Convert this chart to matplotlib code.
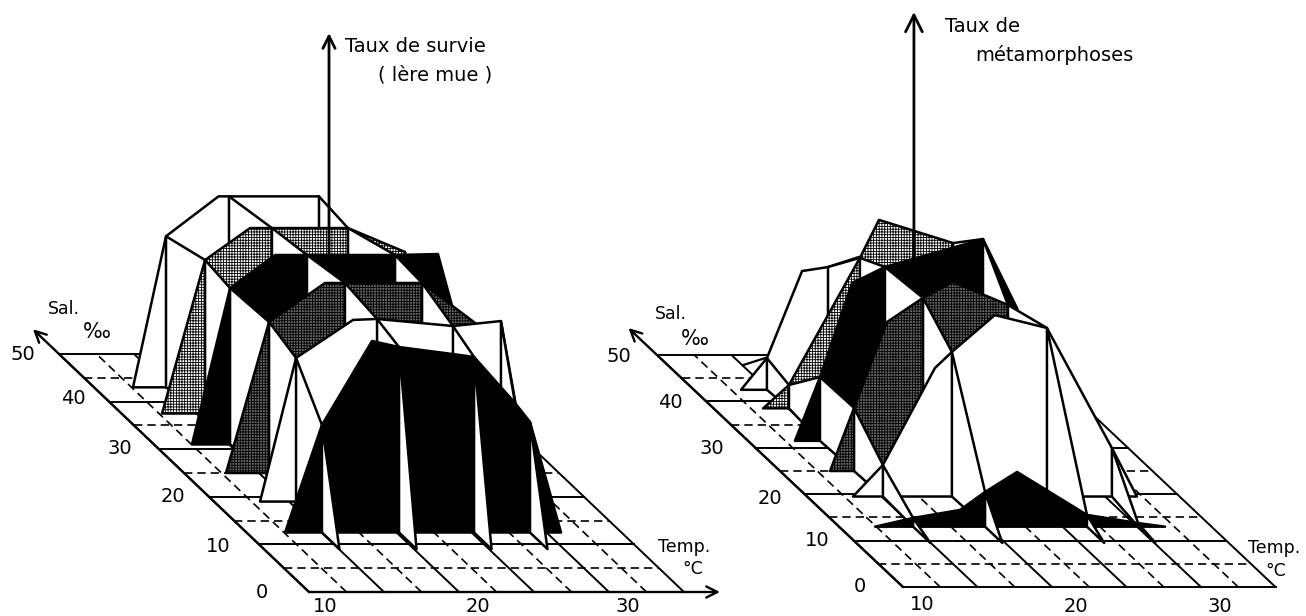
# -*- coding: utf-8 -*-
import matplotlib
matplotlib.use("Agg")
from matplotlib import pyplot as plt
from matplotlib.patches import Polygon

plt.rcParams['font.family'] = ['DejaVu Sans']

# --- Taux de survie: one profile per salinity (temperature, rate %)
surv_sal = [43, 37.5, 31, 25, 19, 12.5]
surv_sal_end = 9

surv_t1 = [12.6, 14.8, 18.3, 19.0, 25.0, 26.7]
surv_h1 = [0, 79.5, 100.5, 100.5, 100.5, 0]
surv_c1 = [1, 3, 4]

surv_t2 = [12.7, 15.57, 18.57, 20.03, 25.1, 28.9, 31.2]
surv_h2 = [0, 80.8, 97.6, 97.6, 97.6, 85, 0]
surv_c2 = [1, 3, 4]

surv_t3 = [12.53, 15.07, 18.07, 20.2, 26.07, 28.93, 32.4]
surv_h3 = [0, 82.3, 99.7, 99.7, 99.7, 100.2, 0]
surv_c3 = [1, 3, 4]

surv_t4 = [12.8, 15.67, 19.4, 20.73, 25.87, 29.4, 32.4]
surv_h4 = [0, 79.5, 100, 100, 100, 79, 0]
surv_c4 = [1, 3, 4]

surv_t5 = [13.07, 15.47, 19.27, 20.87, 25.93, 29.13, 31.27]
surv_h5 = [0, 75.6, 95.6, 96.1, 92.4, 95, 0]
surv_c5 = [1, 3, 4, 5]

surv_t6 = [12.57, 15.03, 18.37, 20.17, 23.77, 25.17, 27.9, 28.9, 30.97]
surv_h6 = [0, 56.6, 100.8, 97.6, 93.9, 92.4, 68.2, 58.2, 0]
surv_c6_in = [1, 3, 5, 6]
surv_c6 = [1, 3, 5, 7]

# --- Taux de metamorphoses
meta_sal = [42.5, 38.5, 31.5, 25, 19.5, 13]
meta_sal_end = 9.5

# small rib behind the first profile
meta_back_t = [13.3, 14.9]
meta_back_h = [13, 17]

meta_t1 = [13.16, 14.9, 17.26, 19.0, 21.08, 22.8]
meta_h1 = [0, 16.7, 62.5, 64.6, 69.9, 0]
meta_c1 = [1, 3]

meta_t2 = [13.32, 15.06, 19.82, 21.1, 26.07, 28.55]
meta_h2 = [0, 12.3, 79.2, 99.2, 87, 0]
meta_c2 = [1, 2, 4]

meta_t3 = [13.15, 14.83, 16.98, 19.19, 25.77, 28.05, 30.27]
meta_h3 = [0, 33.6, 83, 91.5, 106.2, 69.9, 0]
meta_c3 = [1, 3, 4]

meta_t4 = [13.36, 14.97, 17.18, 19.6, 21.61, 25.3, 27.9]
meta_h4 = [0, 33.2, 78.4, 91.1, 99.5, 87.4, 0]
meta_c4 = [1, 3, 5]

meta_t5 = [13.08, 15.09, 18.58, 19.72, 22.6, 26.1, 30.46, 32.14]
meta_h5 = [0, 16.6, 67.6, 76.1, 95.5, 88.7, 25.5, 0]
meta_c5 = [1, 3, 5, 6]

meta_t6 = [12.42, 14.97, 18.12, 19.8, 21.95, 26.64, 30.07, 31.88]
meta_h6 = [0, 4.6, 8.8, 18.3, 28.8, 6.2, 1.9, 0]
meta_c6 = [1, 3, 5, 6]

sal_solid = [0, 10, 20, 30, 40, 50]
sal_dash = [5, 15, 25, 35, 45]
temp_solid = [10, 15, 20, 25, 30, 35]
temp_dash = [12.5, 17.5, 22.5, 27.5, 32.5]

LIGHT = dict(facecolor='white', hatch='++++++')
WHITE = dict(facecolor='white')
BLACK = dict(facecolor='black')
DARK = dict(facecolor='#666666', hatch='++++++')
fills = [WHITE, LIGHT, BLACK, DARK, WHITE, BLACK]

plt.rcParams['hatch.linewidth'] = 0.6

fig = plt.figure(figsize=(13.06, 6.16), dpi=100)
ax = fig.add_axes([0, 0, 1, 1])
ax.set_xlim(0, 1306)
ax.set_ylim(616, 0)
ax.axis('off')


def make_proj(x0, y0, px_t, px_s, py_s, py_h=1.9):
    def proj(t, s, h=0):
        return (x0 + px_t * (t - 10) - px_s * s, y0 - py_s * s - py_h * h)
    return proj


def arrow(a, b, scale, z, lw=1.7):
    ax.annotate('', xy=b, xytext=a, zorder=z,
                arrowprops=dict(arrowstyle='->', lw=lw, color='black',
                                mutation_scale=scale, shrinkA=0, shrinkB=0))


def draw_floor(proj):
    for s in sal_solid:
        ax.plot(*zip(proj(10, s), proj(35, s)), color='black', lw=1.4, zorder=1)
    for s in sal_dash:
        ax.plot(*zip(proj(10, s), proj(35, s)), color='black', lw=1.2,
                dashes=(5, 3), zorder=1)
    for t in temp_solid:
        ax.plot(*zip(proj(t, 0), proj(t, 50)), color='black', lw=1.4, zorder=1)
    for t in temp_dash:
        ax.plot(*zip(proj(t, 0), proj(t, 50)), color='black', lw=1.2,
                dashes=(5, 3), zorder=1)


def draw_surface(proj, sals, temps, heights, cols, cols_in, sal_end):
    z = 2
    for i in range(len(sals)):
        pts = [proj(t, sals[i], h) for t, h in zip(temps[i], heights[i])]
        ax.add_patch(Polygon(pts, closed=True, edgecolor='black', lw=1.8,
                             joinstyle='round', zorder=z, **fills[i]))
        z += 0.1
        # white walls running from this profile to the next one
        for j in range(len(cols[i])):
            c = cols[i][j]
            t, h = temps[i][c], heights[i][c]
            if i + 1 < len(sals):
                if j >= len(cols_in[i + 1]):
                    continue
                c2 = cols_in[i + 1][j]
                t2, h2 = temps[i + 1][c2], heights[i + 1][c2]
                s2 = sals[i + 1]
                wall = [proj(t, sals[i], h), proj(t, sals[i], 0),
                        proj(t2, s2, 0), proj(t2, s2, h2)]
            else:
                wall = [proj(t, sals[i], h), proj(t, sals[i], 0),
                        proj(t, sal_end, 0)]
            ax.add_patch(Polygon(wall, closed=True, facecolor='white',
                                 edgecolor='black', lw=1.8, joinstyle='round',
                                 zorder=z))
            z += 0.1


# left panel
p1 = make_proj(309, 592, 15, 5, 4.76)
draw_floor(p1)
draw_surface(p1, surv_sal,
             [surv_t1, surv_t2, surv_t3, surv_t4, surv_t5, surv_t6],
             [surv_h1, surv_h2, surv_h3, surv_h4, surv_h5, surv_h6],
             [surv_c1, surv_c2, surv_c3, surv_c4, surv_c5, surv_c6],
             [surv_c1, surv_c2, surv_c3, surv_c4, surv_c5, surv_c6_in],
             surv_sal_end)
arrow(p1(10, 0), p1(10, 55.2), 20, 1.5)
arrow(p1(10, 0), (720, 592), 20, 1.5)
arrow(p1(22, 32), p1(22, 32, 214), 22, 2.75, lw=2)

# right panel
p2 = make_proj(903, 587, 14.9, 4.92, 4.64)
draw_floor(p2)
back = [p2(t, meta_sal[0], h) for t, h in zip(meta_back_t, meta_back_h)]
ax.plot(*zip(*back), color='black', lw=1.6, zorder=1.6)
draw_surface(p2, meta_sal,
             [meta_t1, meta_t2, meta_t3, meta_t4, meta_t5, meta_t6],
             [meta_h1, meta_h2, meta_h3, meta_h4, meta_h5, meta_h6],
             [meta_c1, meta_c2, meta_c3, meta_c4, meta_c5, meta_c6],
             [meta_c1, meta_c2, meta_c3, meta_c4, meta_c5, meta_c6],
             meta_sal_end)
arrow(p2(10, 0), p2(10, 55.8), 20, 1.5)
arrow(p2(10, 0), (1312, 587), 20, 1.5)
arrow(p2(21.3, 32), p2(21.3, 32, 224.5), 30, 2.75, lw=2)

# texts
num = dict(fontsize=14, ha='center', va='center')
lab = dict(fontsize=14, ha='left', va='center')
for txt, x, y in [('50', 23, 354), ('40', 73, 399), ('30', 120, 448),
                  ('20', 173, 497), ('10', 218, 546), ('0', 262, 592),
                  ('10', 325, 606), ('20', 478, 606), ('30', 628, 606),
                  ('50', 619, 356), ('40', 670, 402), ('30', 712, 449),
                  ('20', 770, 499), ('10', 817, 541), ('0', 860, 587),
                  ('10', 922, 604), ('20', 1076, 606), ('30', 1220, 606)]:
    ax.text(x, y, txt, **num)

for txt, x, y in [('Sal.', 48, 309), ('Temp.', 658, 547), ('°C', 682, 569),
                  ('Sal.', 655, 314), ('Temp.', 1248, 548), ('°C', 1265, 571)]:
    ax.text(x, y, txt, fontsize=12.5, ha='left', va='center')
for x, y in [(83, 332), (681, 339)]:
    ax.text(x, y, '‰', fontsize=15, ha='left', va='center')

ax.text(345, 47, 'Taux de survie', **lab)
ax.text(378, 75, '( lère mue )', **lab)
ax.text(945, 27, 'Taux de', **lab)
ax.text(975, 55, 'métamorphoses', **lab)

fig.savefig('out.png', dpi=100, facecolor='white')
